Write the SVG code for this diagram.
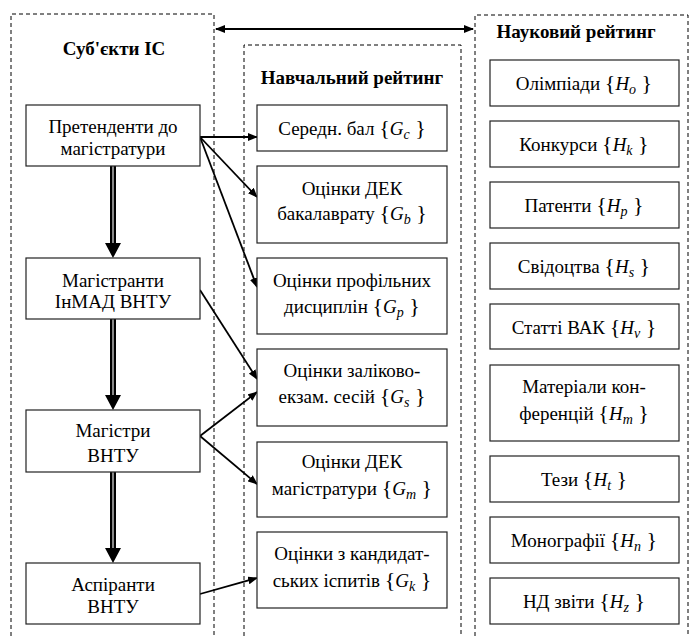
<svg xmlns="http://www.w3.org/2000/svg" width="689" height="636" viewBox="0 0 689 636">
<style>
.bg{fill:#fff}
.cont{fill:none;stroke:#000;stroke-width:1;stroke-dasharray:4 3}
.box{fill:#fff;stroke:#222;stroke-width:1.2}
text{font-family:'Liberation Serif','Times New Roman',serif}
.t{font-size:19px;fill:#000;text-anchor:middle}
.h{font-size:19px;font-weight:bold;fill:#000;text-anchor:middle}
.i{font-style:italic}
.s{font-style:italic;font-size:14px}
.br{font-size:22px}
.con{fill:none;stroke:#000;stroke-width:1.8}
.dbl{stroke:#000;stroke-width:6}
.dbli{stroke:#888;stroke-width:2}
</style>
<defs>
<marker id="ah" markerWidth="10" markerHeight="8" refX="9" refY="4" orient="auto" markerUnits="userSpaceOnUse">
<path d="M0,0 L10,4 L0,8 Z" fill="#000"/>
</marker>
<marker id="ahs" markerWidth="10" markerHeight="8" refX="1" refY="4" orient="auto" markerUnits="userSpaceOnUse">
<path d="M10,0 L0,4 L10,8 Z" fill="#000"/>
</marker>
</defs>
<rect class="bg" x="0" y="0" width="689" height="636"/>

<g id="containers">
<path class="cont" d="M11,636 V14 H214 V636"/>
<path class="cont" d="M244,636 V45 H461 V636"/>
<path class="cont" d="M475,636 V15 H688 V636"/>
<text class="h" x="114" y="55">Суб'єкти ІС</text>
<text class="h" x="352" y="84">Навчальний рейтинг</text>
<text class="h" x="576" y="38">Науковий рейтинг</text>
</g>

<g id="connectors">
<line class="con" x1="216" y1="29" x2="473" y2="29" marker-start="url(#ahs)" marker-end="url(#ah)"/>
<line class="dbl" x1="113" y1="166" x2="113" y2="244"/><line class="dbli" x1="113" y1="166" x2="113" y2="244"/>
<polygon points="105,243 121,243 113,258" fill="#000"/>
<line class="dbl" x1="113" y1="319" x2="113" y2="396"/><line class="dbli" x1="113" y1="319" x2="113" y2="396"/>
<polygon points="105,395 121,395 113,410" fill="#000"/>
<line class="dbl" x1="113" y1="472" x2="113" y2="549"/><line class="dbli" x1="113" y1="472" x2="113" y2="549"/>
<polygon points="105,548 121,548 113,563" fill="#000"/>
<line class="con" x1="200" y1="137" x2="257" y2="137" marker-end="url(#ah)"/>
<line class="con" x1="200" y1="137" x2="257" y2="197" marker-end="url(#ah)"/>
<line class="con" x1="200" y1="137" x2="257" y2="287" marker-end="url(#ah)"/>
<line class="con" x1="200" y1="290" x2="257" y2="379" marker-end="url(#ah)"/>
<line class="con" x1="200" y1="436" x2="257" y2="392" marker-end="url(#ah)"/>
<line class="con" x1="200" y1="436" x2="257" y2="484" marker-end="url(#ah)"/>
<line class="con" x1="200" y1="594" x2="257" y2="578" marker-end="url(#ah)"/>
</g>

<g id="n-pretendenty"><rect class="box" x="26" y="105" width="174" height="61"/>
<text class="t" x="113" y="133">Претенденти до</text><text class="t" x="113" y="155">магістратури</text></g>
<g id="n-magistranty"><rect class="box" x="26" y="258" width="174" height="61"/>
<text class="t" x="113" y="287">Магістранти</text><text class="t" x="113" y="308">ІнМАД ВНТУ</text></g>
<g id="n-magistry"><rect class="box" x="26" y="410" width="174" height="62"/>
<text class="t" x="113" y="437">Магістри</text><text class="t" x="113" y="462">ВНТУ</text></g>
<g id="n-aspiranty"><rect class="box" x="26" y="563" width="174" height="61"/>
<text class="t" x="113" y="591">Аспіранти</text><text class="t" x="113" y="613">ВНТУ</text></g>

<g id="n-gc"><rect class="box" x="257" y="105" width="190" height="46"/>
<text class="t" x="352" y="135">Середн. бал  <tspan class="br">{</tspan><tspan class="i">G</tspan><tspan class="s" dy="4">c</tspan><tspan class="br" dy="-4"> }</tspan></text></g>
<g id="n-gb"><rect class="box" x="257" y="166" width="190" height="77"/>
<text class="t" x="352" y="195">Оцінки ДЕК</text>
<text class="t" x="352" y="220">бакалаврату <tspan class="br">{</tspan><tspan class="i">G</tspan><tspan class="s" dy="4">b</tspan><tspan class="br" dy="-4"> }</tspan></text></g>
<g id="n-gp"><rect class="box" x="257" y="258" width="190" height="76"/>
<text class="t" x="352" y="287">Оцінки профільних</text>
<text class="t" x="352" y="313">дисциплін <tspan class="br">{</tspan><tspan class="i">G</tspan><tspan class="s" dy="4">p</tspan><tspan class="br" dy="-4"> }</tspan></text></g>
<g id="n-gs"><rect class="box" x="257" y="349" width="190" height="77"/>
<text class="t" x="352" y="377">Оцінки заліково-</text>
<text class="t" x="352" y="403">екзам. сесій <tspan class="br">{</tspan><tspan class="i">G</tspan><tspan class="s" dy="4">s</tspan><tspan class="br" dy="-4"> }</tspan></text></g>
<g id="n-gm"><rect class="box" x="257" y="442" width="190" height="75"/>
<text class="t" x="352" y="468">Оцінки ДЕК</text>
<text class="t" x="352" y="495">магістратури <tspan class="br">{</tspan><tspan class="i">G</tspan><tspan class="s" dy="4">m</tspan><tspan class="br" dy="-4"> }</tspan></text></g>
<g id="n-gk"><rect class="box" x="257" y="532" width="190" height="76"/>
<text class="t" x="352" y="560">Оцінки з кандидат-</text>
<text class="t" x="352" y="587">ських іспитів <tspan class="br">{</tspan><tspan class="i">G</tspan><tspan class="s" dy="4">k</tspan><tspan class="br" dy="-4"> }</tspan></text></g>

<g id="n-ho"><rect class="box" x="490" y="60" width="189" height="46"/>
<text class="t" x="584" y="90">Олімпіади <tspan class="br">{</tspan><tspan class="i">H</tspan><tspan class="s" dy="4">o</tspan><tspan class="br" dy="-4"> }</tspan></text></g>
<g id="n-hk"><rect class="box" x="490" y="121" width="189" height="46"/>
<text class="t" x="584" y="151">Конкурси <tspan class="br">{</tspan><tspan class="i">H</tspan><tspan class="s" dy="4">k</tspan><tspan class="br" dy="-4"> }</tspan></text></g>
<g id="n-hp"><rect class="box" x="490" y="182" width="189" height="46"/>
<text class="t" x="584" y="212">Патенти <tspan class="br">{</tspan><tspan class="i">H</tspan><tspan class="s" dy="4">p</tspan><tspan class="br" dy="-4"> }</tspan></text></g>
<g id="n-hs"><rect class="box" x="490" y="243" width="189" height="46"/>
<text class="t" x="584" y="273">Свідоцтва <tspan class="br">{</tspan><tspan class="i">H</tspan><tspan class="s" dy="4">s</tspan><tspan class="br" dy="-4"> }</tspan></text></g>
<g id="n-hv"><rect class="box" x="490" y="304" width="189" height="45"/>
<text class="t" x="584" y="334">Статті ВАК <tspan class="br">{</tspan><tspan class="i">H</tspan><tspan class="s" dy="4">v</tspan><tspan class="br" dy="-4"> }</tspan></text></g>
<g id="n-hm"><rect class="box" x="490" y="365" width="189" height="76"/>
<text class="t" x="584" y="393">Матеріали кон-</text>
<text class="t" x="584" y="420">ференцій <tspan class="br">{</tspan><tspan class="i">H</tspan><tspan class="s" dy="4">m</tspan><tspan class="br" dy="-4"> }</tspan></text></g>
<g id="n-ht"><rect class="box" x="490" y="456" width="189" height="46"/>
<text class="t" x="584" y="486">Тези <tspan class="br">{</tspan><tspan class="i">H</tspan><tspan class="s" dy="4">t</tspan><tspan class="br" dy="-4"> }</tspan></text></g>
<g id="n-hn"><rect class="box" x="490" y="517" width="189" height="46"/>
<text class="t" x="584" y="547">Монографії <tspan class="br">{</tspan><tspan class="i">H</tspan><tspan class="s" dy="4">n</tspan><tspan class="br" dy="-4"> }</tspan></text></g>
<g id="n-hz"><rect class="box" x="490" y="578" width="189" height="46"/>
<text class="t" x="584" y="608">НД звіти <tspan class="br">{</tspan><tspan class="i">H</tspan><tspan class="s" dy="4">z</tspan><tspan class="br" dy="-4"> }</tspan></text></g>
</svg>
